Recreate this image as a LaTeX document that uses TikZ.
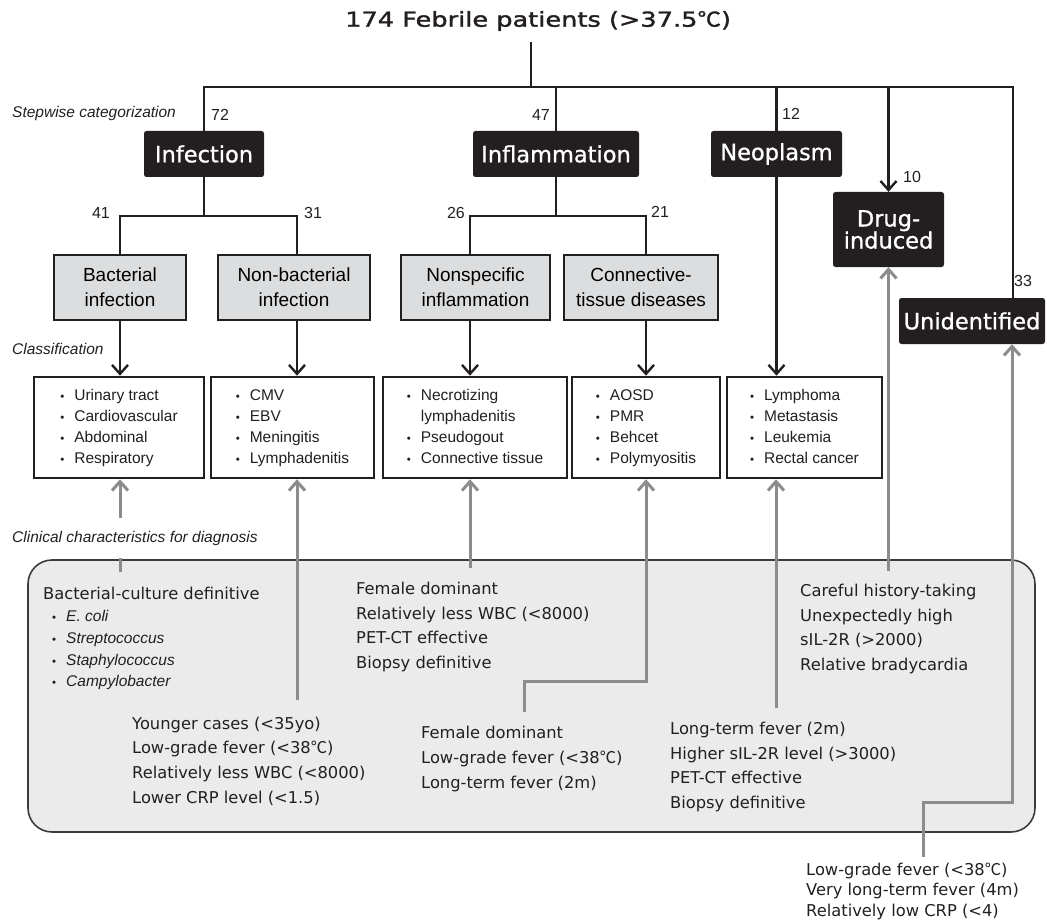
\documentclass[tikz,border=0pt]{standalone}
\usepackage{fontspec}
\usetikzlibrary{arrows.meta}
\newfontfamily\gothic{DejaVu Sans}
\newfontfamily\gothicb[FakeBold=0.9]{DejaVu Sans}
\newfontfamily\titlef[FakeStretch=1.25,FakeBold=1.6]{DejaVu Sans}
\newfontfamily\arialf{Liberation Sans}
\newfontfamily\cjk{Noto Sans CJK JP}
\newfontfamily\cjkwide[FakeStretch=1.15,FakeBold=1.2]{Noto Sans CJK JP}
\newcommand{\degc}{{\cjk ℃}}
\newcommand{\bl}{{\fontsize{11.5}{11.5}\selectfont\upshape •}}
\definecolor{inkc}{HTML}{231F20}
\definecolor{gryl}{HTML}{8C8C8C}
\definecolor{boxg}{HTML}{DCDDDE}
\definecolor{panelf}{HTML}{EBEBEC}
\definecolor{panelb}{HTML}{3C3C3C}
\begin{document}
\begin{tikzpicture}[x=1pt,y=-1pt,
  conn/.style={draw=inkc,line width=2.4pt},
  arr/.style={conn,-{Straight Barb[length=9pt,width=16pt]}},
  garr/.style={draw=gryl,line width=3pt,-{Straight Barb[length=9pt,width=16pt]}},
  blk/.style={fill=inkc,text=white,rounded corners=2.5pt,inner sep=0pt,align=center,minimum height=46,font=\gothicb\fontsize{22.5}{22}\selectfont},
  cat/.style={draw=inkc,fill=boxg,line width=2.4pt,inner sep=0pt,align=center,minimum height=65,font=\arialf\fontsize{19}{25}\selectfont},
  lst/.style={draw=inkc,fill=white,line width=2.6pt,inner sep=0pt,minimum height=101,font=\arialf\fontsize{15.5}{21}\selectfont,text=inkc},
  num/.style={inner sep=0pt,font=\arialf\fontsize{16}{16}\selectfont,text=inkc},
  lbl/.style={inner sep=0pt,anchor=west,font=\arialf\itshape\fontsize{15.5}{16}\selectfont,text=inkc},
  crit/.style={inner sep=0pt,anchor=west,align=left,font=\gothic\fontsize{16.3}{24.6}\selectfont,text=inkc}]
\useasboundingbox (0,0) rectangle (1047,920);

% title
\node[inner sep=0pt,anchor=west,font=\titlef\fontsize{20.5}{22}\selectfont,text=inkc] (top) at (345,21) {174 Febrile patients (>37.5{\cjkwide ℃})};

% category boxes
\node[blk,minimum width=120] (inf) at (204,154) {Infection};
\node[blk,minimum width=166] (infl) at (556,154) {Inflammation};
\node[blk,minimum width=131] (neo) at (776.5,154) {Neoplasm};
\node[blk,minimum width=111,minimum height=75] (drug) at (888.5,229.5) {Drug-\\induced};
\node[blk,minimum width=146] (unid) at (972,321) {Unidentified};

% top connectors
\coordinate (t0) at (531,42);
\coordinate (t1) at (531,87);
\coordinate (bL) at (204,87);
\coordinate (bR) at (1013,87);
\draw[conn] (t0) -- (t1);
\draw[conn] (inf.north) -- (bL) -- (bR) -- (bR |- unid.north);
\draw[conn] (infl.north) -- (infl.north |- bL);
\draw[conn] (neo.north) -- (neo.north |- bL);
\draw[arr] (drug.north |- bL) -- (drug.north);

% numbers
\node[num,anchor=west] (n72) at (211,115) {72};
\node[num,anchor=east] (n47) at (550,115) {47};
\node[num,anchor=west] (n12) at (782,114) {12};
\node[num,anchor=west] (n10) at (903,177) {10};
\node[num,anchor=west] (n33) at (1014,281) {33};
\node[num,anchor=east] (n41) at (110,213) {41};
\node[num,anchor=west] (n31) at (304,213) {31};
\node[num,anchor=east] (n26) at (465,213) {26};
\node[num,anchor=west] (n21) at (651,212) {21};

% side labels
\node[lbl] (step) at (12,113) {Stepwise categorization};
\node[lbl] (clas) at (12,349) {Classification};

% subcategory boxes
\node[cat,minimum width=132] (bact) at (120,287.5) {Bacterial\\infection};
\node[cat,minimum width=152] (nonb) at (294,287.5) {Non-bacterial\\infection};
\node[cat,minimum width=149] (nspec) at (475.5,287.5) {Nonspecific\\inflammation};
\node[cat,minimum width=154] (ctd) at (641,287.5) {Connective-\\tissue diseases};

\coordinate (s1) at (120,216);
\coordinate (s2) at (297,216);
\coordinate (s3) at (470,216);
\coordinate (s4) at (646,216);
\draw[conn] (inf.south) -- (inf.south |- s1);
\draw[conn] (s1 |- bact.north) -- (s1) -- (s2) -- (s2 |- nonb.north);
\draw[conn] (infl.south) -- (infl.south |- s3);
\draw[conn] (s3 |- nspec.north) -- (s3) -- (s4) -- (s4 |- ctd.north);

% list boxes
\node[lst,minimum width=170] (l1) at (119,427.5) {\begin{tabular}{@{}l@{\hspace{10pt}}l@{}}\bl&Urinary tract\\\bl&Cardiovascular\\\bl&Abdominal\\\bl&Respiratory\end{tabular}};
\node[lst,minimum width=163] (l2) at (292.5,427.5) {\begin{tabular}{@{}l@{\hspace{10pt}}l@{}}\bl&CMV\\\bl&EBV\\\bl&Meningitis\\\bl&Lymphadenitis\end{tabular}};
\node[lst,minimum width=184] (l3) at (475,427.5) {\begin{tabular}{@{}l@{\hspace{10pt}}l@{}}\bl&Necrotizing\\&lymphadenitis\\\bl&Pseudogout\\\bl&Connective tissue\end{tabular}};
\node[lst,minimum width=148] (l4) at (646,427.5) {\begin{tabular}{@{}l@{\hspace{10pt}}l@{}}\bl&AOSD\\\bl&PMR\\\bl&Behcet\\\bl&Polymyositis\end{tabular}};
\node[lst,minimum width=155] (l5) at (804.5,427.5) {\begin{tabular}{@{}l@{\hspace{10pt}}l@{}}\bl&Lymphoma\\\bl&Metastasis\\\bl&Leukemia\\\bl&Rectal cancer\end{tabular}};

\draw[arr] (s1 |- bact.south) -- (s1 |- l1.north);
\draw[arr] (s2 |- nonb.south) -- (s2 |- l2.north);
\draw[arr] (s3 |- nspec.south) -- (s3 |- l3.north);
\draw[arr] (s4 |- ctd.south) -- (s4 |- l4.north);
\draw[arr] (neo.south) -- (neo.south |- l5.north);

% clinical panel
\node[draw=panelb,fill=panelf,line width=1.6pt,rounded corners=24pt,inner sep=0pt,minimum width=1007,minimum height=272] (panel) at (531.5,696) {};

% gray arrows
\coordinate (g1) at (120,572);
\draw[garr] (g1) -- (g1 |- l1.south);
\node[lbl,fill=white,minimum height=40] (ccl) at (12,538) {Clinical characteristics for diagnosis};
\coordinate (g2) at (297,700);
\draw[garr] (g2) -- (g2 |- l2.south);
\coordinate (g3) at (470,568);
\draw[garr] (g3) -- (g3 |- l3.south);
\coordinate (g4) at (524,712);
\coordinate (g4b) at (646,681);
\draw[garr] (g4) -- (g4 |- g4b) -- (g4b) -- (g4b |- l4.south);
\coordinate (g5) at (776,708);
\draw[garr] (g5) -- (g5 |- l5.south);
\coordinate (g6) at (888.5,571);
\draw[garr] (g6) -- (g6 |- drug.south);
\coordinate (g7) at (923,857);
\coordinate (g7b) at (1012,802);
\draw[garr] (g7) -- (g7 |- g7b) -- (g7b) -- (g7b |- unid.south);

% clinical texts
\node[crit] (ca) at (43,593) {Bacterial-culture definitive};
\node[inner sep=0pt,anchor=west,font=\arialf\itshape\fontsize{15.5}{21.7}\selectfont,text=inkc] (cb) at (52,650) {\begin{tabular}{@{}l@{\hspace{10pt}}l@{}}\bl&E. coli\\\bl&Streptococcus\\\bl&Staphylococcus\\\bl&Campylobacter\end{tabular}};
\node[crit] (cc) at (132,761) {Younger cases (<35yo)\\Low-grade fever (<38\degc)\\Relatively less WBC (<8000)\\Lower CRP level (<1.5)};
\node[crit] (cd) at (356,627) {Female dominant\\Relatively less WBC (<8000)\\PET-CT effective\\Biopsy definitive};
\node[crit] (ce) at (421,759) {Female dominant\\Low-grade fever (<38\degc)\\Long-term fever (2m)};
\node[crit] (cf) at (670,767) {Long-term fever (2m)\\Higher sIL-2R level (>3000)\\PET-CT effective\\Biopsy definitive};
\node[crit] (cg) at (800,629) {Careful history-taking\\Unexpectedly high\\sIL-2R (>2000)\\Relative bradycardia};
\node[crit,font=\gothic\fontsize{16.3}{20.5}\selectfont] (ch) at (806,891) {Low-grade fever (<38\degc)\\Very long-term fever (4m)\\Relatively low CRP (<4)};
\end{tikzpicture}
\end{document}
